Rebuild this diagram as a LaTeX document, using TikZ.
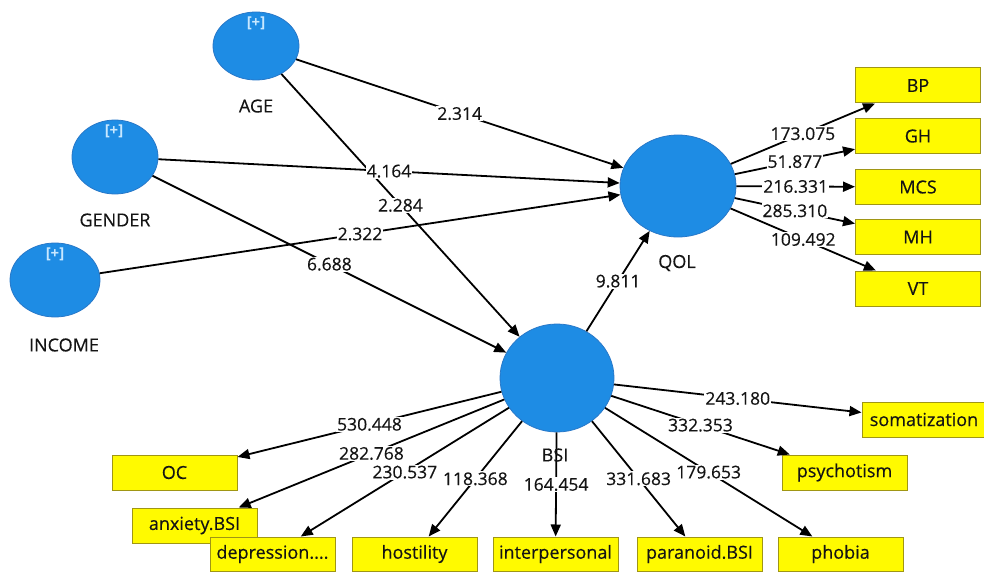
\documentclass[tikz,border=0pt]{standalone}
\usepackage{fontspec}
\setmainfont{Open Sans}
\newfontfamily\semifont{Open Sans}[FakeBold=0.35]
\usetikzlibrary{shapes.geometric,arrows.meta}
\definecolor{lvblue}{RGB}{30,140,228}
\definecolor{lvedge}{RGB}{40,120,200}
\definecolor{mvyellow}{RGB}{255,250,0}
\definecolor{mvedge}{RGB}{160,150,20}
\definecolor{plusblue}{RGB}{200,232,255}
\definecolor{txt}{RGB}{20,20,20}
\tikzset{
  latent/.style={ellipse,fill=lvblue,draw=lvedge,line width=0.8pt,inner sep=0pt},
  manifest/.style={rectangle,fill=mvyellow,draw=mvedge,line width=1pt,minimum width=125pt,minimum height=35pt,inner sep=0pt,text=txt,font=\semifont\fontsize{18}{20}\selectfont},
  plus/.style={text=plusblue,font=\bfseries\fontsize{15}{17}\selectfont,inner sep=0pt},
  lvname/.style={text=txt,font=\semifont\fontsize{18}{20}\selectfont,inner sep=0pt},
  path/.style={line width=1.8pt,-{Triangle[length=12pt,width=10pt]}},
  coef/.style={midway,fill=white,inner sep=1pt,text=txt,font=\semifont\fontsize{17.5}{19}\selectfont}
}
\begin{document}
\begin{tikzpicture}[x=1pt,y=-1pt]
\useasboundingbox (0,0) rectangle (984,572);
% latent variables
\node[latent,minimum width=86pt,minimum height=68pt] (AGE) at (256,46) {};
\node[latent,minimum width=86pt,minimum height=74pt] (GENDER) at (115,157) {};
\node[latent,minimum width=90pt,minimum height=74pt] (INCOME) at (55,280) {};
\node[latent,minimum width=116pt,minimum height=102pt] (QOL) at (678,186) {};
\node[latent,minimum width=114pt,minimum height=108pt] (BSI) at (557,378) {};
\node[plus] (pAGE) at (256,23) {[+]};
\node[plus] (pGENDER) at (114,131) {[+]};
\node[plus] (pINCOME) at (55,254) {[+]};
% manifest variables
\node[manifest] (BP) at (918,85.5) {BP};
\node[manifest] (GH) at (918,136) {GH};
\node[manifest] (MCS) at (918,187) {MCS};
\node[manifest] (MH) at (918,237) {MH};
\node[manifest] (VT) at (918,288.5) {VT};
\node[manifest,minimum width=124pt] (SOM) at (924,419.5) {somatization};
\node[manifest] (PSY) at (844.5,472.5) {psychotism};
\node[manifest] (OC) at (174.5,472.5) {OC};
\node[manifest] (ANX) at (194.5,525.5) {anxiety.BSI};
\node[manifest,minimum height=34pt] (DEP) at (272.5,554) {depression....};
\node[manifest,minimum height=34pt] (HOS) at (414.5,554) {hostility};
\node[manifest,minimum height=34pt] (INT) at (555.5,554) {interpersonal};
\node[manifest,minimum height=34pt] (PAR) at (699.5,554) {paranoid.BSI};
\node[manifest,minimum height=34pt] (PHO) at (840.5,554) {phobia};
% structural paths
\draw[path] (AGE) -- (BSI) node[coef] (c1) {2.284};
\draw[path] (AGE) -- (QOL) node[coef] (c2) {2.314};
\draw[path] (GENDER) -- (QOL) node[coef] (c3) {4.164};
\draw[path] (GENDER) -- (BSI) node[coef] (c4) {6.688};
\draw[path] (INCOME) -- (QOL) node[coef] (c5) {2.322};
\draw[path] (BSI) -- (QOL) node[coef] (c6) {9.811};
% QOL outer
\draw[path] (QOL) -- (BP) node[coef] (q1) {173.075};
\draw[path] (QOL) -- (GH) node[coef] (q2) {51.877};
\draw[path] (QOL) -- (MCS) node[coef] (q3) {216.331};
\draw[path] (QOL) -- (MH) node[coef] (q4) {285.310};
\draw[path] (QOL) -- (VT) node[coef] (q5) {109.492};
% BSI outer
\draw[path] (BSI) -- (OC) node[coef] (b1) {530.448};
\draw[path] (BSI) -- (ANX) node[coef] (b2) {282.768};
\draw[path] (BSI) -- (DEP) node[coef] (b3) {230.537};
\draw[path] (BSI) -- (HOS) node[coef] (b4) {118.368};
\draw[path] (BSI) -- (INT) node[coef] (b5) {164.454};
\draw[path] (BSI) -- (PAR) node[coef] (b6) {331.683};
\draw[path] (BSI) -- (PHO) node[coef] (b7) {179.653};
\draw[path] (BSI) -- (PSY) node[coef] (b8) {332.353};
\draw[path] (BSI) -- (SOM) node[coef] (b9) {243.180};
% latent names
\node[lvname] (nAGE) at (256,106) {AGE};
\node[lvname] (nGENDER) at (115,220) {GENDER};
\node[lvname] (nINCOME) at (64,345) {INCOME};
\node[lvname] (nQOL) at (677,263) {QOL};
\node[lvname] (nBSI) at (555,455) {BSI};
\end{tikzpicture}
\end{document}
